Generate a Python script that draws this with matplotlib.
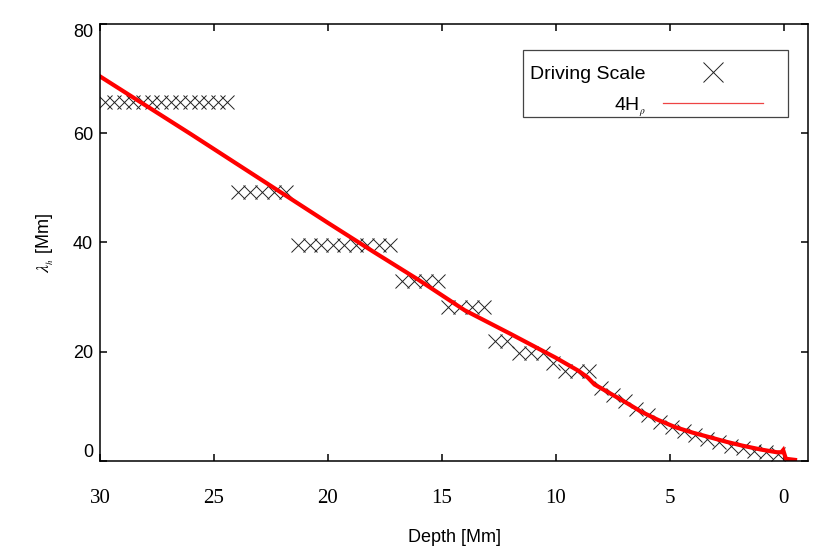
import matplotlib
matplotlib.use("Agg")
import matplotlib.pyplot as plt
from matplotlib.lines import Line2D
from matplotlib.patches import Rectangle

plt.rcParams["font.family"] = ["Liberation Sans", "DejaVu Sans"]
plt.rcParams["mathtext.fontset"] = "stix"

# 4H_rho curve (depth in Mm, value in Mm)
hp_depth = [30.0, 28.0, 26.0, 24.0, 22.0, 20.0, 18.0, 16.0, 14.0, 12.0, 10.0,
            9.0, 8.6, 8.3, 8.0, 7.0, 6.24, 5.5, 4.76, 4.0, 3.29, 2.5, 1.8,
            1.0, 0.3, 0.1, 0.02, -0.1, -0.5]
hp_value = [70.4, 65.1, 59.8, 54.4, 49.0, 43.6, 38.3, 33.1, 27.6, 23.3, 18.9,
            16.5, 15.3, 14.0, 13.3, 10.9, 9.0, 7.5, 6.2, 5.2, 4.4, 3.5, 2.8,
            2.1, 1.6, 1.6, 2.0, 0.4, 0.2]

# driving scale points
drv_depth = [29.78, 29.37, 28.96, 28.54, 28.13, 27.72, 27.31, 26.89, 26.48,
             26.07, 25.66, 25.25, 24.83, 24.42,
             23.94, 23.42, 22.89, 22.36, 21.83,
             21.31, 20.80, 20.30, 19.79, 19.29, 18.78, 18.28, 17.77, 17.27,
             16.74, 16.21, 15.69, 15.16,
             14.72, 14.19, 13.67, 13.14,
             12.66, 12.13,
             11.61, 11.08, 10.55,
             10.11,
             9.59, 9.06, 8.53,
             8.02, 7.50, 6.98, 6.46, 5.95, 5.43, 4.91, 4.39, 3.87, 3.36,
             2.84, 2.32, 1.80, 1.28, 0.76, 0.24]
drv_value = [65.8] * 14 + [49.3] * 5 + [39.5] * 9 + [32.9] * 4 + [28.2] * 4 \
    + [21.9] * 2 + [19.7] * 3 + [17.9] + [16.5] * 3 \
    + [13.4, 12.1, 10.9, 9.5, 8.4, 7.2, 6.2, 5.4, 4.7, 4.1,
       3.4, 2.8, 2.3, 1.9, 1.6, 1.3]

fig = plt.figure(figsize=(8.3, 5.6), dpi=100)
ax = fig.add_axes([0.1205, 0.1768, 0.853, 0.7804])

ax.plot(drv_depth, drv_value, ls="none", marker="x", ms=10, mew=0.7,
        color="#222222")
ax.plot(hp_depth, hp_value, color="red", lw=3, solid_joinstyle="miter")

ax.set_xlim(30, -1.07)
ax.set_ylim(0, 80)
ax.set_xticks([30, 25, 20, 15, 10, 5, 0])
ax.set_yticks([0, 20, 40, 60, 80])

ax.tick_params(direction="in", length=5, width=1.1, top=True, right=True)
ax.tick_params(axis="y", labelsize=13, pad=5)
ax.tick_params(axis="x", labelsize=15, pad=20)
for lab in ax.get_xticklabels():
    lab.set_fontfamily("Liberation Serif")
ylabs = ax.get_yticklabels()
ylabs[0].set_va("bottom")
ylabs[-1].set_va("top")
for sp in ax.spines.values():
    sp.set_linewidth(1.1)

ax.set_xlabel("Depth [Mm]", fontsize=13, labelpad=15)
ax.set_ylabel(r"$\lambda_{_h}$ [Mm]", fontsize=13, labelpad=12)

# legend: handles after the text, box drawn separately
handles = [
    Line2D([], [], ls="none", marker="x", ms=14, mew=0.7, color="#222222"),
    Line2D([], [], color="#ee4444", lw=0.9),
]
leg = ax.legend(handles, ["Driving Scale", r"4H$_{_\rho}$"], loc="center right",
                bbox_to_anchor=(763 / 830, 1 - 92 / 560),
                bbox_transform=fig.transFigure, borderaxespad=0, borderpad=0,
                markerfirst=False, fontsize=14, handlelength=5.15,
                handletextpad=0.87, labelspacing=0.62, frameon=False)
ax.add_patch(Rectangle((0.5975, 0.7872), 0.3743, 0.1533, transform=ax.transAxes,
                       fill=False, edgecolor="#444444", lw=0.9, zorder=5))

fig.savefig("out.png", dpi=100)
